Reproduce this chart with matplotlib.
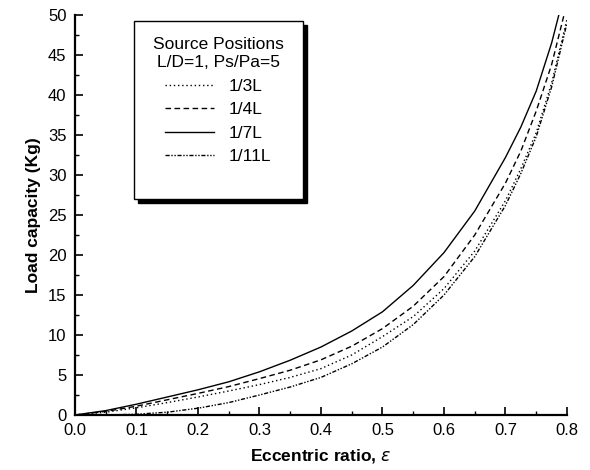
import numpy as np
import matplotlib.pyplot as plt
from matplotlib.patches import Rectangle
from matplotlib.ticker import MultipleLocator

plt.rcParams['font.family'] = ['Liberation Sans', 'DejaVu Sans']

# Eccentric ratio
ecc = [0.0, 0.05, 0.1, 0.15, 0.2, 0.25, 0.3, 0.35, 0.4, 0.45, 0.5,
       0.55, 0.6, 0.65, 0.7, 0.725, 0.75, 0.775, 0.8]

# Load capacity (Kg) per source position
load_1_3L = [0.0, 0.35, 0.9, 1.55, 2.25, 3.0, 3.8, 4.7, 5.8, 7.5, 9.8,
             12.3, 15.8, 20.5, 26.8, 30.8, 35.3, 41.5, 49.5]
load_1_4L = [0.0, 0.45, 1.1, 1.9, 2.7, 3.55, 4.55, 5.6, 6.9, 8.6, 10.8,
             13.6, 17.3, 22.5, 29.0, 33.0, 38.0, 43.8, 51.5]
load_1_7L = [0.0, 0.55, 1.35, 2.25, 3.15, 4.15, 5.4, 6.85, 8.5, 10.5, 12.9,
             16.2, 20.3, 25.5, 32.2, 36.0, 40.5, 46.5, 54.0]
load_1_11L = [0.0, 0.0, 0.1, 0.35, 0.85, 1.55, 2.5, 3.5, 4.7, 6.4, 8.5,
              11.3, 15.0, 19.8, 26.2, 30.2, 34.8, 41.0, 49.0]

series_labels = ['1/3L', '1/4L', '1/7L', '1/11L']

fig = plt.figure(figsize=(5.9, 4.7), dpi=100)
ax = fig.add_axes([0.127, 0.117, 0.834, 0.851])

ax.plot(ecc, load_1_3L, color='black', lw=1.0, linestyle=(0, (1, 2)),
        label=series_labels[0])
ax.plot(ecc, load_1_4L, color='black', lw=1.0, linestyle=(0, (4, 2.5)),
        label=series_labels[1])
ax.plot(ecc, load_1_7L, color='black', lw=1.0, linestyle='-',
        label=series_labels[2])
ax.plot(ecc, load_1_11L, color='black', lw=1.0,
        linestyle=(0, (3, 1.2, 1, 1.2, 1, 1.2)), label=series_labels[3])

ax.set_xlim(0, 0.8)
ax.set_ylim(0, 50)

# ejes tipo Origin: solo izquierda y abajo, ticks hacia dentro
ax.spines['top'].set_visible(False)
ax.spines['right'].set_visible(False)
ax.spines['left'].set_linewidth(1.6)
ax.spines['bottom'].set_linewidth(1.6)
ax.xaxis.set_major_locator(MultipleLocator(0.1))
ax.xaxis.set_minor_locator(MultipleLocator(0.05))
ax.yaxis.set_major_locator(MultipleLocator(5))
ax.yaxis.set_minor_locator(MultipleLocator(2.5))
ax.tick_params(which='major', direction='in', length=6, width=1.2,
               labelsize=12, pad=6)
ax.tick_params(which='minor', direction='in', length=3, width=1.0)
ax.xaxis.set_major_formatter(plt.FuncFormatter(lambda v, p: f'{v:.1f}'))

ax.set_xlabel(r'Eccentric ratio, $\varepsilon$', fontsize=12.5,
              fontweight='bold', labelpad=6)
ax.set_ylabel('Load capacity (Kg)', fontsize=12.5, fontweight='bold',
              labelpad=5)

# caja de la leyenda con sombra negra (dibujada a mano)
box_x0, box_y0, box_w, box_h = 0.12, 0.54, 0.343, 0.445
ax.add_patch(Rectangle((box_x0 + 0.008, box_y0 - 0.009), box_w, box_h,
                       transform=ax.transAxes, facecolor='black',
                       edgecolor='black', zorder=4))
ax.add_patch(Rectangle((box_x0, box_y0), box_w, box_h,
                       transform=ax.transAxes, facecolor='white',
                       edgecolor='black', lw=1.0, zorder=5))

leg = ax.legend(title='Source Positions\nL/D=1, Ps/Pa=5', fontsize=12.5,
                title_fontsize=12.5, loc='upper center',
                bbox_to_anchor=(box_x0 + box_w / 2, 0.985), borderaxespad=0,
                frameon=False, handlelength=2.8, handletextpad=0.85,
                labelspacing=0.48, borderpad=0.9)
leg.get_title().set_multialignment('center')
leg.get_title().set_linespacing(1.3)
leg.set_zorder(6)

fig.savefig('out.png', dpi=100)
